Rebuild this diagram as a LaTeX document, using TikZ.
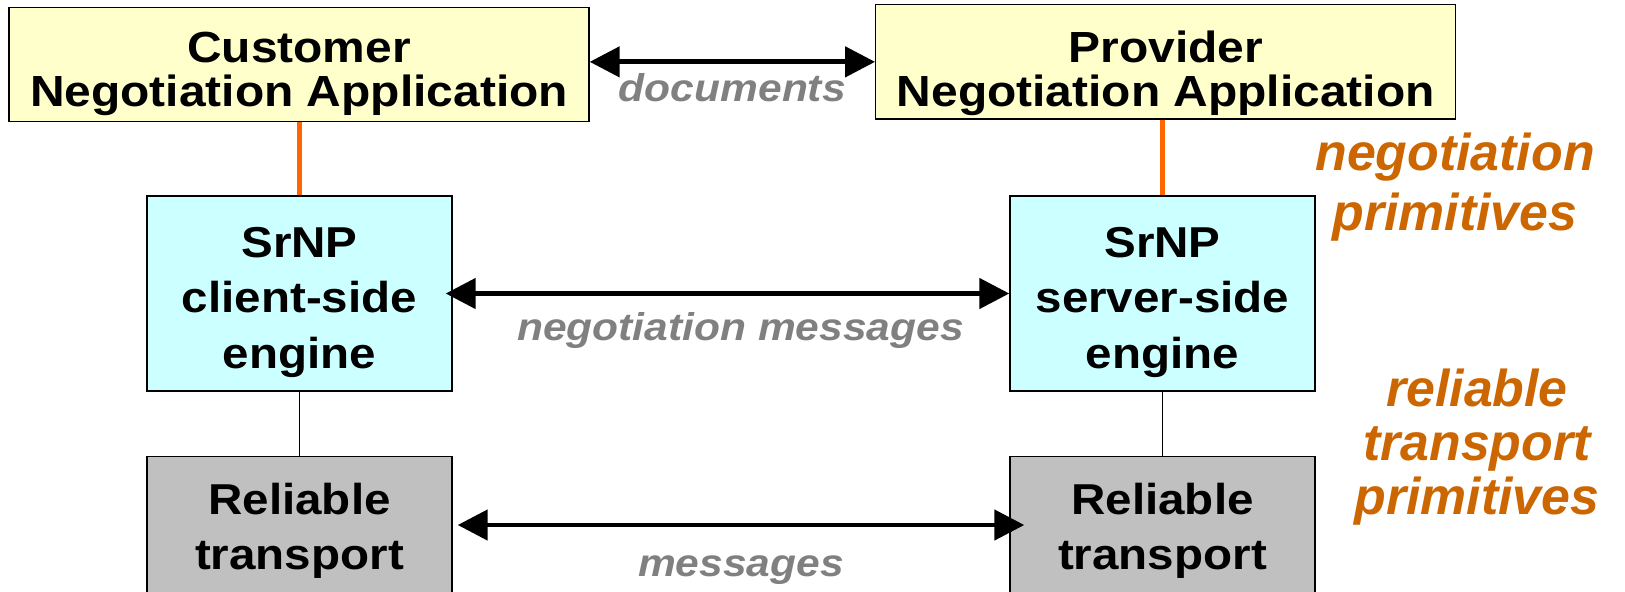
\documentclass[tikz,border=0pt]{standalone}
\usepackage{fontspec}
\usepackage{tikz}
\usetikzlibrary{arrows.meta, positioning}
\newfontfamily\boxfont{Liberation Sans}[FakeStretch=1.1]
\newfontfamily\notefont{Liberation Sans}
\definecolor{appyellow}{HTML}{FFFFCC}
\definecolor{srnpcyan}{HTML}{CCFFFF}
\definecolor{rtgray}{HTML}{C0C0C0}
\definecolor{primorange}{HTML}{FF6600}
\definecolor{notebrown}{HTML}{CC6600}
\definecolor{msggray}{HTML}{808080}
\tikzstyle{appbox} = [rectangle, minimum width=11.6cm, minimum height=2.29cm, draw=black, line width=0.8pt, fill=appyellow]
\tikzstyle{apptext} = [align=center, inner sep=0pt, font=\boxfont\fontsize{24.8}{25}\selectfont\bfseries]
\tikzstyle{srnp} = [rectangle, minimum width=6.1cm, minimum height=3.9cm, align=center, draw=black, line width=0.8pt, fill=srnpcyan, font=\boxfont\fontsize{24.6}{31.5}\selectfont\bfseries]
\tikzstyle{rtbox} = [srnp, fill=rtgray, minimum height=2.97cm]
\tikzstyle{dblarrow} = [line width=2.7pt, {Triangle[length=0.6cm, width=0.6cm]}-{Triangle[length=0.6cm, width=0.6cm]}]
\tikzstyle{primline} = [line width=3pt, draw=primorange]
\tikzstyle{thinline} = [line width=0.6pt]
\tikzstyle{msg} = [anchor=base, text=msggray, font=\boxfont\fontsize{22}{24}\selectfont\bfseries\itshape]
\tikzstyle{note} = [align=center, text=notebrown, font=\notefont\fontsize{29.5}{34}\selectfont\bfseries\itshape]

\begin{document}
\begin{tikzpicture}
\useasboundingbox (0,0) rectangle (32.5,-11.82);

% applications
\node (cust) [appbox] at (5.98,-1.29) {};
\node (custtxt) [apptext] at (5.98,-1.48) {Customer\\Negotiation Application};
\node (prov) [appbox] at (23.315,-1.237) {};
\node (provtxt) [apptext] at (23.315,-1.46) {Provider\\Negotiation Application};
\draw [dblarrow] (cust.east |- prov.west) -- node[msg, yshift=-0.8cm] {documents} (prov.west);

% engines
\node (client) [srnp] at (5.99,-5.87) {\rule{0pt}{0.95cm}SrNP\\client-side\\engine};
\node (server) [srnp] at (23.25,-5.87) {\rule{0pt}{0.95cm}SrNP\\server-side\\engine};
\draw [primline] (cust.south -| client.north) -- (client.north);
\draw [primline] (prov.south -| server.north) -- (server.north);
\draw [dblarrow] ([xshift=-0.14cm]client.east) -- node[msg, yshift=-0.94cm, xshift=0.26cm] {negotiation messages} (server.west);

% transport
\node (rtc) [rtbox] at (5.99,-10.62) {Reliable\\transport};
\node (rts) [rtbox] at (23.25,-10.62) {Reliable\\transport};
\draw [thinline] (client.south) -- (rtc.north);
\draw [thinline] (server.south) -- (rts.north);
\draw [dblarrow] ([xshift=0.1cm, yshift=0.12cm]rtc.east) -- node[msg, yshift=-1.02cm] {messages} ([xshift=0.3cm, yshift=0.12cm]rts.west);

% primitives
\node (negprim) [note] at (29.1,-3.74) {negotiation\\primitives};
\node (relprim) [note, font=\notefont\fontsize{29.5}{30.5}\selectfont\bfseries\itshape] at (29.54,-8.94) {reliable\\transport\\primitives};

\end{tikzpicture}
\end{document}
